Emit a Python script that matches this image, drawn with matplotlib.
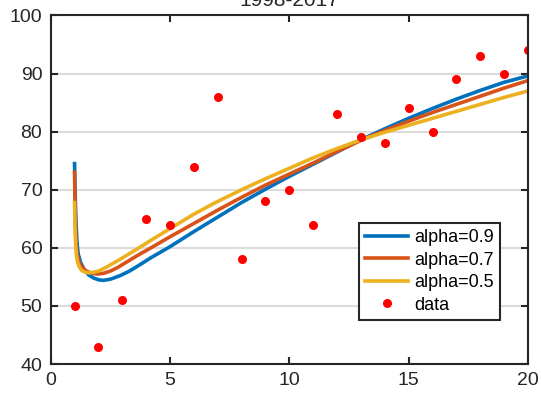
import numpy as np
import matplotlib
matplotlib.use("Agg")
import matplotlib.pyplot as plt

plt.rcParams['font.family'] = ['Liberation Sans', 'DejaVu Sans']

# observed data, 1998-2017
years_idx = list(range(1, 21))
data = [50, 43, 51, 65, 64, 74, 86, 58, 68, 70,
        64, 83, 79, 78, 84, 80, 89, 93, 90, 94]

# fitted curves
x_a9 = [1.0, 1.03, 1.06, 1.1, 1.15, 1.25, 1.4, 1.6, 1.8, 2.0, 2.2, 2.5, 2.9, 3.3, 3.7,
        4.2, 5, 6, 7, 8, 9, 10, 11, 12, 13, 14, 15, 16, 17, 18, 19, 20]
y_a9 = [74.5, 68.5, 64.5, 61.0, 59.0, 57.5, 56.3, 55.3, 54.8, 54.5, 54.4, 54.6, 55.2,
        56.0, 57.0, 58.3, 60.2, 62.8, 65.3, 67.8, 70.1, 72.3, 74.4, 76.5, 78.6, 80.5,
        82.3, 84.0, 85.6, 87.1, 88.5, 89.6]

x_a7 = [1.0, 1.02, 1.04, 1.07, 1.11, 1.18, 1.27, 1.4, 1.55, 1.75, 1.95, 2.2, 2.5, 2.8,
        3.2, 3.6, 4.2, 5, 6, 7, 8, 9, 10, 11, 12, 13, 14, 15, 16, 17, 18, 19, 20]
y_a7 = [73.0, 67.5, 63.5, 60.5, 58.8, 57.6, 56.9, 56.3, 55.9, 55.6, 55.5, 55.6, 56.0,
        56.6, 57.6, 58.6, 60.0, 61.9, 64.2, 66.5, 68.7, 70.8, 72.7, 74.6, 76.6, 78.5,
        80.2, 81.8, 83.3, 84.7, 86.1, 87.5, 88.8]

x_a5 = [1.0, 1.02, 1.04, 1.07, 1.12, 1.2, 1.3, 1.45, 1.6, 1.8, 2.0, 2.3, 2.6, 2.9, 3.3,
        3.7, 4.2, 5, 6, 7, 8, 9, 10, 11, 12, 13, 14, 15, 16, 17, 18, 19, 20]
y_a5 = [67.8, 63.8, 61.0, 59.0, 57.6, 56.7, 56.1, 55.8, 55.7, 55.8, 56.0, 56.6, 57.3,
        58.0, 59.0, 60.0, 61.3, 63.3, 65.8, 68.0, 70.0, 71.9, 73.7, 75.5, 77.1, 78.6,
        79.9, 81.1, 82.3, 83.5, 84.7, 85.9, 87.0]

fig = plt.figure(figsize=(5.41, 3.94), dpi=100)
ax = fig.add_axes([0.0937, 0.0761, 0.8823, 0.8846])

ax.plot(x_a9, y_a9, color='#0072BD', lw=2.6, label='alpha=0.9')
ax.plot(x_a7, y_a7, color='#D95319', lw=2.6, label='alpha=0.7')
ax.plot(x_a5, y_a5, color='#EDB120', lw=2.6, label='alpha=0.5')
ax.plot(years_idx, data, 'o', color='red', ms=6.5, mec='none', label='data')

ax.set_xlim(0, 20)
ax.set_ylim(40, 100)
ax.set_xticks([0, 5, 10, 15, 20])
ax.set_yticks([40, 50, 60, 70, 80, 90, 100])
ax.yaxis.grid(True, color='#dcdcdc', lw=1.5)
ax.set_axisbelow(True)

for s in ax.spines.values():
    s.set_color('#262626')
    s.set_linewidth(1.5)
ax.tick_params(direction='in', length=5, width=1.5, color='#262626',
               top=True, right=True, labelsize=14, labelcolor='#262626', pad=6)

ax.set_title('1998-2017', fontsize=15, pad=7, color='#262626')

leg = ax.legend(loc='lower right', bbox_to_anchor=(0.941, 0.1265), fontsize=13,
                fancybox=False, framealpha=1, edgecolor='#262626',
                handlelength=2.4, borderpad=0.35, labelspacing=0.3,
                handletextpad=0.3, borderaxespad=0)
leg.get_frame().set_linewidth(1.5)

fig.savefig('out.png', dpi=100)
